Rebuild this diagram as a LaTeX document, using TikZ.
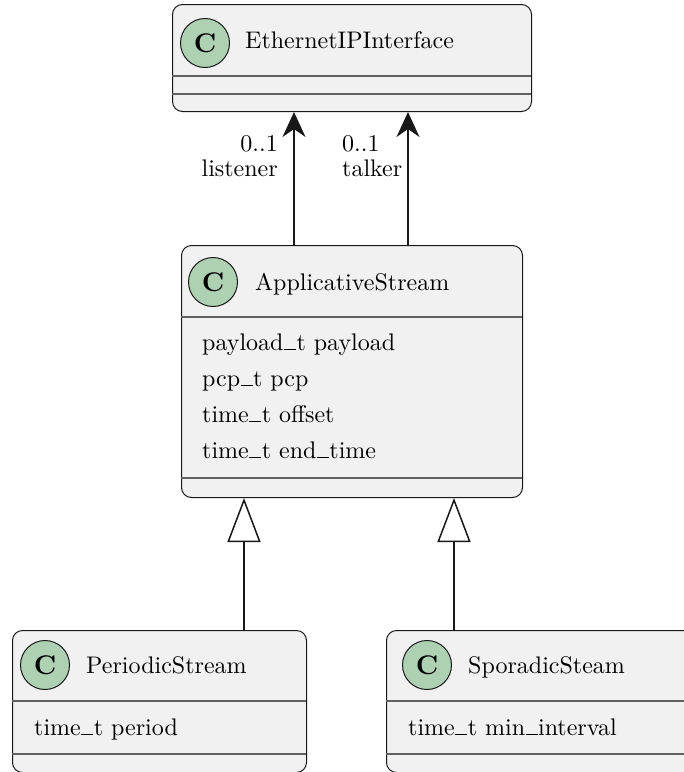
\documentclass[tikz,border=0pt]{standalone}
\usepackage{fontspec}
\setmainfont{lmroman10-regular.otf}[BoldFont=lmroman10-bold.otf, ItalicFont=lmroman10-italic.otf, BoldItalicFont=lmroman10-bolditalic.otf]
\usetikzlibrary{arrows.meta}
\definecolor{boxfill}{HTML}{F1F1F1}
\definecolor{boxline}{HTML}{181818}
\definecolor{sepline}{HTML}{606060}
\definecolor{circfill}{HTML}{ADD1B2}
\newcommand{\usc}{\kern.02em\rule[0pt]{0.5em}{0.05em}\kern.02em}
\begin{document}
\begin{tikzpicture}[x=1pt,y=-1pt,
  font=\fontsize{24}{26}\selectfont,
  classbox/.style={draw=boxline, fill=boxfill, rounded corners=10pt, line width=1pt, anchor=north west, inner sep=0pt},
  cbadge/.style={circle, draw=boxline, fill=circfill, line width=1pt, minimum size=49pt, inner sep=0pt, font=\fontsize{27}{28}\selectfont\bfseries},
  sep/.style={draw=sepline, line width=1.3pt},
  lbl/.style={inner sep=0pt},
  rolelbl/.style={inner sep=0pt, font=\fontsize{24}{24.5}\selectfont},
  assoc/.style={draw=boxline, line width=1.5pt, -{Stealth[length=25pt, width=23pt, inset=8pt]}},
  inherit/.style={draw=boxline, line width=1.5pt, -{Triangle[open, length=44pt, width=33pt, fill=white]}}]
\useasboundingbox (0,0) rectangle (684,772);
\clip (0,0) rectangle (684,772);

% EthernetIPInterface
\node[classbox, minimum width=359pt, minimum height=107pt] (eth) at (172,4) {};
\node[cbadge] (ethC) at (205,43) {C};
\node[lbl, anchor=base west] (ethT) at (245,48) {EthernetIPInterface};
\draw[sep] (172,76) -- (531,76);
\draw[sep] (172,94) -- (531,94);

% ApplicativeStream
\node[classbox, minimum width=341pt, minimum height=252pt] (app) at (181,245) {};
\node[cbadge] (appC) at (213,282) {C};
\node[lbl, anchor=base west] (appT) at (255,290) {ApplicativeStream};
\draw[sep] (181,317) -- (522,317);
\node[lbl, anchor=base west] (a1) at (202,350) {payload\usc t payload};
\node[lbl, anchor=base west] (a2) at (202,386) {pcp\usc t pcp};
\node[lbl, anchor=base west] (a3) at (202,422) {time\usc t offset};
\node[lbl, anchor=base west] (a4) at (202,458) {time\usc t end\usc time};
\draw[sep] (181,478) -- (522,478);

% PeriodicStream
\node[classbox, minimum width=294pt, minimum height=142pt] (per) at (12,630) {};
\node[cbadge] (perC) at (45,665) {C};
\node[lbl, anchor=base west] (perT) at (86,673) {PeriodicStream};
\draw[sep] (12,701) -- (306,701);
\node[lbl, anchor=base west] (p1) at (34,735) {time\usc t period};
\draw[sep] (12,754) -- (306,754);

% SporadicSteam
\node[classbox, minimum width=330pt, minimum height=142pt] (spo) at (386,630) {};
\node[cbadge] (spoC) at (427,665) {C};
\node[lbl, anchor=base west] (spoT) at (468,673) {SporadicSteam};
\draw[sep] (386,701) -- (716,701);
\node[lbl, anchor=base west] (s1) at (408,735) {time\usc t min\usc interval};
\draw[sep] (386,754) -- (716,754);

% associations
\coordinate (lx) at (294,0);
\coordinate (tx) at (408,0);
\draw[assoc] (app.north -| lx) -- (eth.south -| lx);
\draw[assoc] (app.north -| tx) -- (eth.south -| tx);
\node[rolelbl, align=right, anchor=base east] (l1) at (278,176) {0..1\hspace{6pt}\\listener};
\node[rolelbl, align=left, anchor=base west] (t1) at (342,176) {0..1\\talker};

% inheritance
\coordinate (px) at (244,0);
\coordinate (sx) at (454,0);
\draw[inherit] (per.north -| px) -- (app.south -| px);
\draw[inherit] (spo.north -| sx) -- (app.south -| sx);
\end{tikzpicture}
\end{document}
